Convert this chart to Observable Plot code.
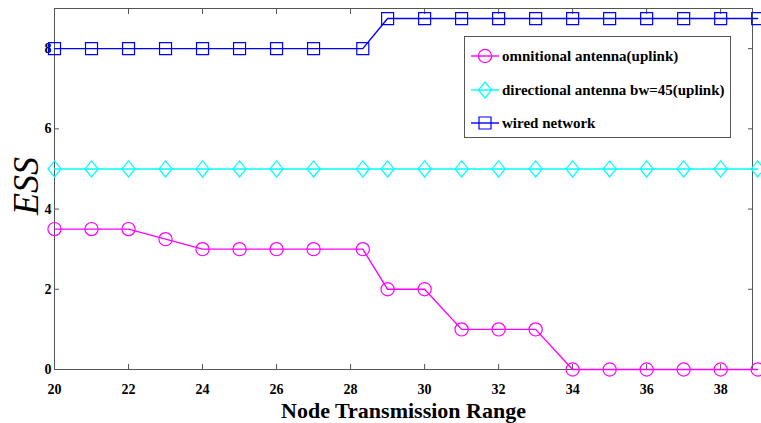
<!DOCTYPE html>
<html>
<head>
<meta charset="utf-8">
<script src="https://cdn.jsdelivr.net/npm/d3@7"></script>
<script src="https://cdn.jsdelivr.net/npm/@observablehq/plot@0.6"></script>
<style>
  html, body { margin: 0; padding: 0; background: #fff; }
  #wrap { position: relative; width: 761px; height: 423px; overflow: hidden; }
  #legend {
    position: absolute; left: 464px; top: 36px; width: 267px; height: 102px;
    border: 1px solid #555; background: #fff; box-sizing: border-box;
    font-family: "Liberation Serif", "Times New Roman", serif; font-weight: bold; font-size: 15px;
  }
  #legend .row { position: absolute; left: 5px; height: 20px; display: flex; align-items: center; white-space: nowrap; }
  #legend svg { margin-right: 2px; }
</style>
</head>
<body>
<div id="wrap"></div>
<script>
// Node transmission range (x) and ESS for each network type
const range = [20, 21, 22, 23, 24, 25, 26, 27, 28.33, 29, 30, 31, 32, 33, 34, 35, 36, 37, 38, 39];
const omniUplink = [3.5, 3.5, 3.5, 3.25, 3, 3, 3, 3, 3, 2, 2, 1, 1, 1, 0, 0, 0, 0, 0, 0];
const directionalUplink = [5, 5, 5, 5, 5, 5, 5, 5, 5, 5, 5, 5, 5, 5, 5, 5, 5, 5, 5, 5];
const wired = [8, 8, 8, 8, 8, 8, 8, 8, 8, 8.75, 8.75, 8.75, 8.75, 8.75, 8.75, 8.75, 8.75, 8.75, 8.75, 8.75];

const seriesNames = ["omnitional antenna(uplink)", "directional antenna bw=45(uplink)", "wired network"];
const seriesColors = ["#ff00ff", "#00ffff", "#0000ff"];
const xTicks = [20, 22, 24, 26, 28, 30, 32, 34, 36, 38];
const yTicks = [0, 2, 4, 6, 8];

// hollow MATLAB-style markers
const circleSym = { draw(ctx) { ctx.moveTo(6.6, 0); ctx.arc(0, 0, 6.6, 0, 2 * Math.PI); } };
const diamondSym = { draw(ctx) { ctx.moveTo(0, -8); ctx.lineTo(6.6, 0); ctx.lineTo(0, 8); ctx.lineTo(-6.6, 0); ctx.closePath(); } };
const squareSym = { draw(ctx) { ctx.rect(-6, -6, 12, 12); } };
const symbols = [circleSym, diamondSym, squareSym];

const valuesBySeries = [omniUplink, directionalUplink, wired];
const rows = valuesBySeries.flatMap((vals, s) =>
  range.map((x, i) => ({ x, y: vals[i], s })));

const serif = '"Liberation Serif", "Times New Roman", serif';

const marks = [];
valuesBySeries.forEach((_, s) => {
  const d = rows.filter(r => r.s === s);
  marks.push(Plot.line(d, { x: "x", y: "y", stroke: seriesColors[s], strokeWidth: 1.4 }));
  marks.push(Plot.dot(d, { x: "x", y: "y", stroke: seriesColors[s], fill: "none", strokeWidth: 1.2, symbol: () => symbols[s], r: 1 }));
});

const chart = Plot.plot({
  width: 761,
  height: 423,
  marginLeft: 54,
  marginRight: 9,
  marginTop: 8,
  marginBottom: 54,
  style: { fontFamily: serif, background: "transparent", overflow: "visible" },
  symbol: { type: "identity" },
  x: { domain: [20, 38.86] },
  y: { domain: [0, 9] },
  marks: [
    Plot.frame({ stroke: "#555", strokeWidth: 1 }),
    Plot.axisX(xTicks, { anchor: "bottom", tickSize: -5, tickPadding: 20, stroke: "#555", fontSize: 14, fontWeight: "bold", fill: "#000", label: null }),
    Plot.axisX(xTicks, { anchor: "top", tickSize: -5, tickFormat: () => "", stroke: "#555", label: null }),
    Plot.axisY(yTicks, { anchor: "left", tickSize: -5, tickPadding: 8, stroke: "#555", fontSize: 14, fontWeight: "bold", fill: "#000", label: null }),
    Plot.axisY(yTicks, { anchor: "right", tickSize: -5, tickFormat: () => "", stroke: "#555", label: null }),
    ...marks,
    Plot.text(["Node Transmission Range"], { frameAnchor: "bottom", lineAnchor: "middle", dy: 41, text: d => d, fontSize: 22, fontWeight: "bold", fill: "#000", fontFamily: serif }),
    Plot.text(["ESS"], { frameAnchor: "left", textAnchor: "middle", dx: -28, dy: -3, rotate: -90, text: d => d, fontSize: 36, fontStyle: "italic", fill: "#000", fontFamily: serif, style: "letter-spacing: 4px" })
  ]
});

const wrap = document.getElementById("wrap");
wrap.appendChild(chart);

// legend box inside the plot area
const legend = document.createElement("div");
legend.id = "legend";
const rowTops = [9, 43, 76];
seriesNames.forEach((name, s) => {
  const row = document.createElement("div");
  row.className = "row";
  row.style.top = rowTops[s] + "px";
  const sw = d3.create("svg").attr("width", 30).attr("height", 20);
  sw.append("line").attr("x1", 1).attr("x2", 29).attr("y1", 10).attr("y2", 10)
    .attr("stroke", seriesColors[s]).attr("stroke-width", 1.4);
  sw.append("path").attr("transform", "translate(15,10)")
    .attr("d", d3.symbol(symbols[s], 1)())
    .attr("fill", "none").attr("stroke", seriesColors[s]).attr("stroke-width", 1.2);
  row.appendChild(sw.node());
  const t = document.createElement("span");
  t.textContent = name;
  row.appendChild(t);
  legend.appendChild(row);
});
wrap.appendChild(legend);
</script>
</body>
</html>
